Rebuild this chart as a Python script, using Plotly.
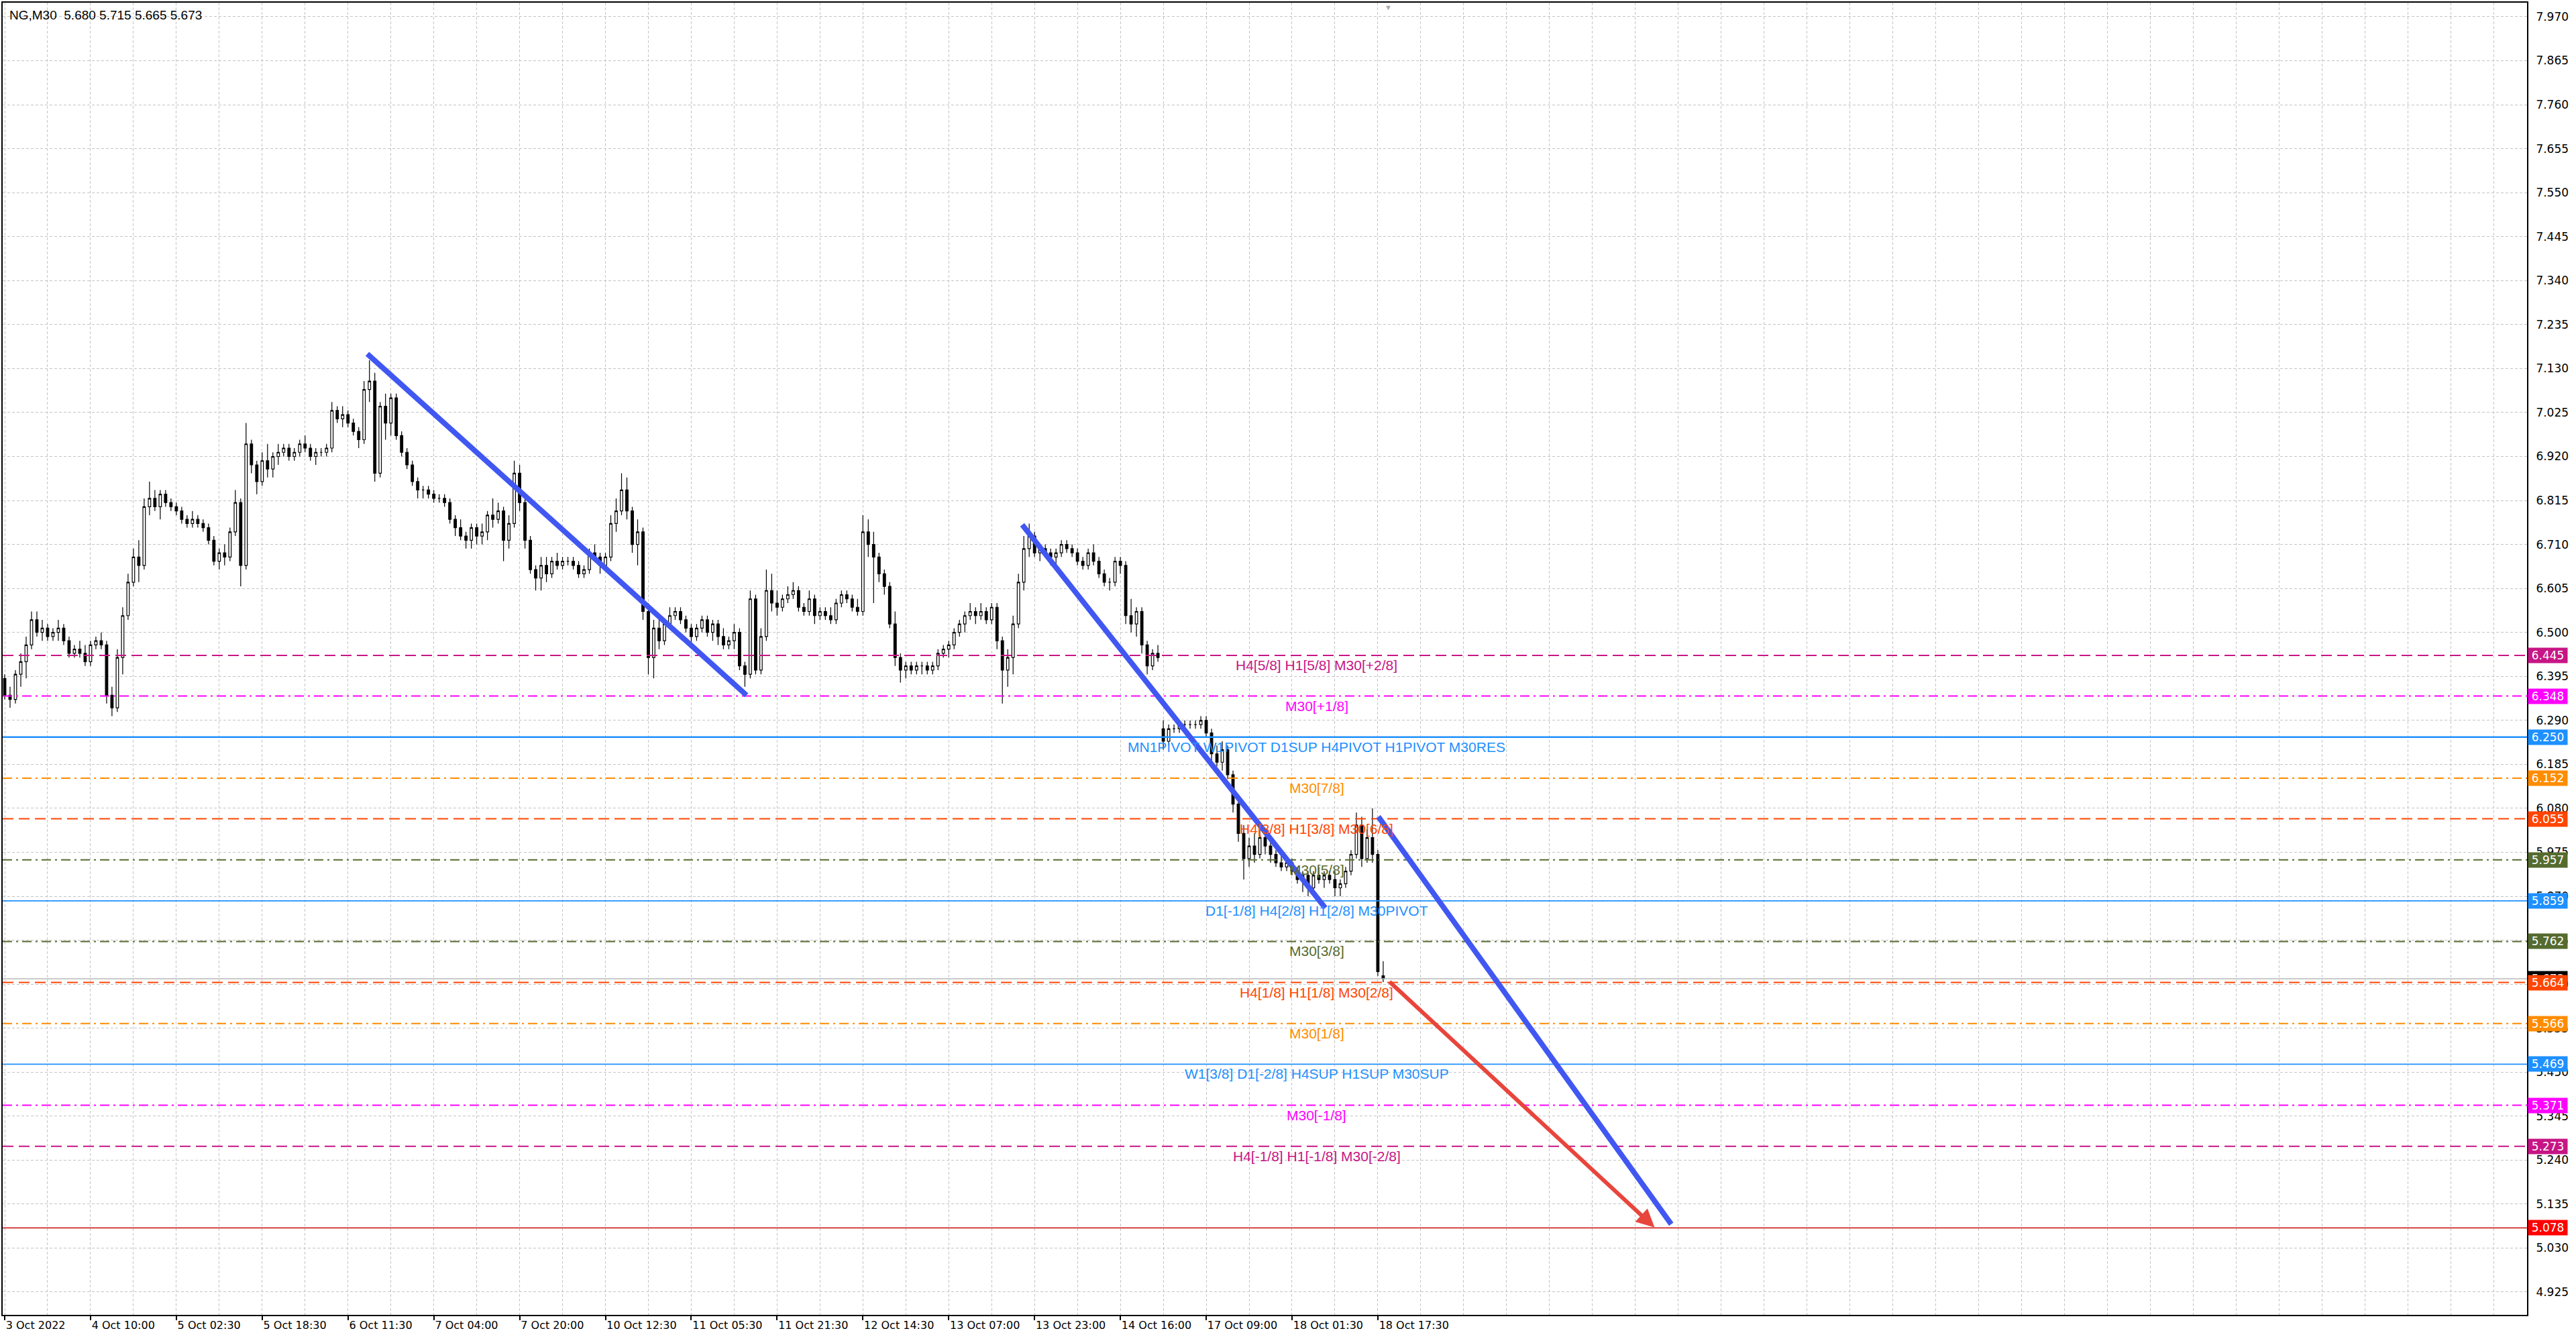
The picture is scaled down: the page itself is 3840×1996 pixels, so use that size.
import plotly.graph_objects as go

# ---------------- data (NG, M30, each candle = 2 bars) ----------------
opens = [
    6.39, 6.35, 6.34, 6.40, 6.43, 6.47, 6.53, 6.50, 6.51, 6.49,
    6.50, 6.51, 6.48, 6.45, 6.46, 6.45, 6.43, 6.47, 6.48, 6.47,
    6.35, 6.32, 6.44, 6.54, 6.62, 6.68, 6.66, 6.80, 6.82, 6.80,
    6.83, 6.81, 6.80, 6.79, 6.77, 6.76, 6.77, 6.76, 6.75, 6.72,
    6.67, 6.69, 6.68, 6.74, 6.81, 6.66, 6.95, 6.90, 6.86, 6.91,
    6.89, 6.92, 6.93, 6.94, 6.92, 6.93, 6.95, 6.94, 6.92, 6.93,
    6.93, 6.94, 7.03, 7.01, 7.02, 7.00, 6.98, 6.96, 7.08, 7.10,
    6.88, 7.04, 7.00, 7.06, 6.97, 6.93, 6.90, 6.86, 6.84, 6.84,
    6.83, 6.82, 6.82, 6.81, 6.77, 6.75, 6.73, 6.72, 6.75, 6.73,
    6.74, 6.78, 6.77, 6.79, 6.72, 6.76, 6.88, 6.81, 6.72, 6.65,
    6.63, 6.66, 6.64, 6.67, 6.66, 6.67, 6.67, 6.66, 6.64, 6.65,
    6.69, 6.68, 6.66, 6.68, 6.76, 6.79, 6.84, 6.79, 6.71, 6.74,
    6.55, 6.44, 6.51, 6.48, 6.52, 6.54, 6.55, 6.53, 6.51, 6.49,
    6.51, 6.53, 6.50, 6.52, 6.49, 6.47, 6.48, 6.50, 6.42, 6.40,
    6.58, 6.41, 6.49, 6.60, 6.57, 6.56, 6.58, 6.59, 6.60, 6.56,
    6.55, 6.58, 6.54, 6.55, 6.54, 6.53, 6.57, 6.59, 6.58, 6.56,
    6.55, 6.74, 6.71, 6.68, 6.64, 6.61, 6.52, 6.44, 6.41, 6.42,
    6.41, 6.42, 6.42, 6.41, 6.42, 6.45, 6.46, 6.47, 6.50, 6.52,
    6.54, 6.55, 6.54, 6.55, 6.53, 6.56, 6.48, 6.41, 6.44, 6.52,
    6.62, 6.70, 6.73, 6.69, 6.70, 6.69, 6.68, 6.69, 6.71, 6.70,
    6.69, 6.67, 6.66, 6.69, 6.67, 6.64, 6.62, 6.62, 6.67, 6.66,
    6.54, 6.52, 6.55, 6.47, 6.42, 6.45, 6.27, 6.24, 6.27, 6.27,
    6.28, 6.28, 6.28, 6.28, 6.29, 6.26, 6.21, 6.19, 6.22, 6.16,
    6.09, 6.02, 5.96, 5.99, 5.97, 6.01, 5.99, 5.97, 5.95, 5.94,
    5.95, 5.93, 5.91, 5.92, 5.89, 5.92, 5.91, 5.92, 5.91, 5.89,
    5.90, 5.93, 5.97, 6.04, 5.96, 6.01, 5.97, 5.680,
]
highs = [
    6.40, 6.37, 6.41, 6.45, 6.49, 6.55, 6.55, 6.53, 6.52, 6.51,
    6.53, 6.52, 6.49, 6.47, 6.48, 6.47, 6.48, 6.49, 6.50, 6.48,
    6.37, 6.46, 6.56, 6.64, 6.70, 6.72, 6.82, 6.86, 6.84, 6.84,
    6.84, 6.82, 6.81, 6.80, 6.78, 6.79, 6.78, 6.77, 6.76, 6.73,
    6.70, 6.71, 6.75, 6.84, 6.82, 7.00, 6.96, 6.91, 6.93, 6.95,
    6.93, 6.95, 6.95, 6.95, 6.94, 6.96, 6.97, 6.95, 6.94, 6.94,
    6.95, 7.05, 7.04, 7.04, 7.03, 7.01, 6.99, 7.10, 7.15, 7.12,
    7.05, 7.07, 7.07, 7.07, 6.98, 6.94, 6.91, 6.87, 6.85, 6.85,
    6.84, 6.83, 6.83, 6.82, 6.78, 6.77, 6.74, 6.76, 6.76, 6.76,
    6.79, 6.82, 6.81, 6.80, 6.78, 6.91, 6.90, 6.82, 6.73, 6.66,
    6.68, 6.68, 6.68, 6.69, 6.68, 6.68, 6.68, 6.67, 6.66, 6.70,
    6.71, 6.69, 6.69, 6.78, 6.82, 6.88, 6.87, 6.80, 6.77, 6.75,
    6.57, 6.53, 6.53, 6.53, 6.56, 6.56, 6.56, 6.54, 6.52, 6.52,
    6.54, 6.54, 6.53, 6.53, 6.51, 6.49, 6.52, 6.51, 6.43, 6.60,
    6.59, 6.51, 6.65, 6.64, 6.60, 6.59, 6.61, 6.62, 6.61, 6.57,
    6.60, 6.59, 6.56, 6.56, 6.56, 6.58, 6.60, 6.60, 6.59, 6.58,
    6.78, 6.77, 6.74, 6.69, 6.65, 6.62, 6.55, 6.45, 6.43, 6.43,
    6.43, 6.43, 6.43, 6.43, 6.46, 6.47, 6.48, 6.51, 6.53, 6.55,
    6.57, 6.56, 6.57, 6.56, 6.57, 6.57, 6.49, 6.46, 6.54, 6.64,
    6.73, 6.76, 6.74, 6.71, 6.71, 6.70, 6.70, 6.72, 6.72, 6.71,
    6.70, 6.68, 6.70, 6.71, 6.68, 6.65, 6.63, 6.68, 6.68, 6.67,
    6.58, 6.56, 6.56, 6.48, 6.46, 6.47, 6.29, 6.28, 6.28, 6.29,
    6.29, 6.29, 6.29, 6.30, 6.30, 6.27, 6.23, 6.24, 6.23, 6.17,
    6.10, 6.04, 6.01, 6.02, 6.03, 6.02, 6.00, 5.98, 5.97, 5.96,
    5.96, 5.94, 5.93, 5.93, 5.93, 5.94, 5.93, 5.93, 5.93, 5.91,
    5.94, 5.98, 6.07, 6.06, 6.03, 6.08, 5.98, 5.715,
]
lows = [
    6.34, 6.32, 6.33, 6.37, 6.39, 6.46, 6.49, 6.48, 6.48, 6.48,
    6.48, 6.47, 6.44, 6.44, 6.44, 6.42, 6.42, 6.46, 6.46, 6.33,
    6.30, 6.31, 6.40, 6.53, 6.61, 6.62, 6.65, 6.78, 6.79, 6.77,
    6.80, 6.79, 6.78, 6.76, 6.75, 6.75, 6.75, 6.74, 6.71, 6.66,
    6.65, 6.66, 6.67, 6.73, 6.61, 6.65, 6.88, 6.83, 6.85, 6.87,
    6.87, 6.90, 6.92, 6.91, 6.91, 6.92, 6.93, 6.91, 6.90, 6.92,
    6.92, 6.93, 7.00, 6.99, 6.99, 6.97, 6.94, 6.95, 7.05, 6.86,
    6.87, 6.96, 6.97, 6.96, 6.92, 6.89, 6.85, 6.82, 6.82, 6.82,
    6.81, 6.81, 6.80, 6.76, 6.73, 6.72, 6.70, 6.70, 6.71, 6.71,
    6.72, 6.75, 6.76, 6.67, 6.70, 6.75, 6.79, 6.70, 6.64, 6.60,
    6.60, 6.62, 6.63, 6.65, 6.65, 6.66, 6.65, 6.63, 6.63, 6.64,
    6.67, 6.64, 6.65, 6.67, 6.74, 6.78, 6.77, 6.69, 6.66, 6.53,
    6.40, 6.39, 6.46, 6.47, 6.51, 6.53, 6.52, 6.50, 6.47, 6.48,
    6.50, 6.49, 6.48, 6.47, 6.46, 6.46, 6.46, 6.41, 6.37, 6.39,
    6.40, 6.40, 6.48, 6.55, 6.54, 6.55, 6.57, 6.58, 6.55, 6.54,
    6.54, 6.52, 6.53, 6.53, 6.52, 6.52, 6.56, 6.57, 6.55, 6.54,
    6.54, 6.68, 6.57, 6.62, 6.59, 6.51, 6.42, 6.38, 6.39, 6.40,
    6.40, 6.40, 6.40, 6.40, 6.41, 6.44, 6.44, 6.46, 6.49, 6.50,
    6.53, 6.52, 6.53, 6.52, 6.52, 6.46, 6.33, 6.37, 6.40, 6.51,
    6.60, 6.68, 6.68, 6.67, 6.68, 6.66, 6.66, 6.68, 6.69, 6.68,
    6.66, 6.65, 6.65, 6.66, 6.63, 6.61, 6.60, 6.61, 6.64, 6.52,
    6.50, 6.49, 6.45, 6.40, 6.41, 6.43, 6.22, 6.23, 6.26, 6.26,
    6.27, 6.27, 6.27, 6.27, 6.25, 6.19, 6.18, 6.17, 6.15, 6.07,
    6.00, 5.91, 5.94, 5.95, 5.96, 5.97, 5.95, 5.94, 5.93, 5.93,
    5.92, 5.90, 5.88, 5.87, 5.88, 5.90, 5.89, 5.90, 5.87, 5.87,
    5.89, 5.92, 5.96, 5.94, 5.95, 5.95, 5.68, 5.665,
]
closes = [
    6.35, 6.34, 6.40, 6.43, 6.47, 6.53, 6.50, 6.51, 6.49, 6.50,
    6.51, 6.48, 6.45, 6.46, 6.45, 6.43, 6.47, 6.48, 6.47, 6.35,
    6.32, 6.44, 6.54, 6.62, 6.68, 6.66, 6.80, 6.82, 6.80, 6.83,
    6.81, 6.80, 6.79, 6.77, 6.76, 6.77, 6.76, 6.75, 6.72, 6.67,
    6.69, 6.68, 6.74, 6.81, 6.66, 6.95, 6.90, 6.86, 6.91, 6.89,
    6.92, 6.93, 6.94, 6.92, 6.93, 6.95, 6.94, 6.92, 6.93, 6.93,
    6.94, 7.03, 7.01, 7.02, 7.00, 6.98, 6.96, 7.08, 7.10, 6.88,
    7.04, 7.00, 7.06, 6.97, 6.93, 6.90, 6.86, 6.84, 6.84, 6.83,
    6.82, 6.82, 6.81, 6.77, 6.75, 6.73, 6.72, 6.75, 6.73, 6.74,
    6.78, 6.77, 6.79, 6.72, 6.76, 6.88, 6.81, 6.72, 6.65, 6.63,
    6.66, 6.64, 6.67, 6.66, 6.67, 6.67, 6.66, 6.64, 6.65, 6.69,
    6.68, 6.66, 6.68, 6.76, 6.79, 6.84, 6.79, 6.71, 6.74, 6.55,
    6.44, 6.51, 6.48, 6.52, 6.54, 6.55, 6.53, 6.51, 6.49, 6.51,
    6.53, 6.50, 6.52, 6.49, 6.47, 6.48, 6.50, 6.42, 6.40, 6.58,
    6.41, 6.49, 6.60, 6.57, 6.56, 6.58, 6.59, 6.60, 6.56, 6.55,
    6.58, 6.54, 6.55, 6.54, 6.53, 6.57, 6.59, 6.58, 6.56, 6.55,
    6.74, 6.71, 6.68, 6.64, 6.61, 6.52, 6.44, 6.41, 6.42, 6.41,
    6.42, 6.42, 6.41, 6.42, 6.45, 6.46, 6.47, 6.50, 6.52, 6.54,
    6.55, 6.54, 6.55, 6.53, 6.56, 6.48, 6.41, 6.44, 6.52, 6.62,
    6.70, 6.73, 6.69, 6.70, 6.69, 6.68, 6.69, 6.71, 6.70, 6.69,
    6.67, 6.66, 6.69, 6.67, 6.64, 6.62, 6.62, 6.67, 6.66, 6.54,
    6.52, 6.55, 6.47, 6.42, 6.45, 6.44, 6.24, 6.27, 6.27, 6.28,
    6.28, 6.28, 6.28, 6.29, 6.26, 6.21, 6.19, 6.22, 6.16, 6.09,
    6.02, 5.96, 5.99, 5.97, 6.01, 5.99, 5.97, 5.95, 5.94, 5.95,
    5.93, 5.91, 5.92, 5.89, 5.92, 5.91, 5.92, 5.91, 5.89, 5.90,
    5.93, 5.97, 6.04, 5.96, 6.01, 5.97, 5.69, 5.673,
]
bar_index = list(range(len(closes)))

x_tick_pos = [0, 16, 32, 48, 64, 80, 96, 112, 128, 144, 160, 176, 192, 208, 224, 240, 256]
x_tick_labels = ["3 Oct 2022", "4 Oct 10:00", "5 Oct 02:30", "5 Oct 18:30", "6 Oct 11:30",
                 "7 Oct 04:00", "7 Oct 20:00", "10 Oct 12:30", "11 Oct 05:30", "11 Oct 21:30",
                 "12 Oct 14:30", "13 Oct 07:00", "13 Oct 23:00", "14 Oct 16:00", "17 Oct 09:00",
                 "18 Oct 01:30", "18 Oct 17:30"]
y_tick_values = [4.925, 5.030, 5.135, 5.240, 5.345, 5.450, 5.555, 5.660, 5.765, 5.870,
                 5.975, 6.080, 6.185, 6.290, 6.395, 6.500, 6.605, 6.710, 6.815, 6.920,
                 7.025, 7.130, 7.235, 7.340, 7.445, 7.550, 7.655, 7.760, 7.865, 7.970]

# Murrey / pivot levels
level_values = [6.445, 6.348, 6.250, 6.152, 6.055, 5.957, 5.859, 5.762,
                5.664, 5.566, 5.469, 5.371, 5.273, 5.078]
level_texts = ["H4[5/8] H1[5/8] M30[+2/8]", "M30[+1/8]",
               "MN1PIVOT W1PIVOT D1SUP H4PIVOT H1PIVOT M30RES", "M30[7/8]",
               "H4[3/8] H1[3/8] M30[6/8]", "M30[5/8]",
               "D1[-1/8] H4[2/8] H1[2/8] M30PIVOT", "M30[3/8]",
               "H4[1/8] H1[1/8] M30[2/8]", "M30[1/8]",
               "W1[3/8] D1[-2/8] H4SUP H1SUP M30SUP", "M30[-1/8]",
               "H4[-1/8] H1[-1/8] M30[-2/8]", ""]
current_price = 5.673

# trend lines (bar index, price)
trend_x0 = [67.6, 189.7, 256.1]
trend_y0 = [7.165, 6.757, 6.060]
trend_x1 = [138.3, 246.2, 310.7]
trend_y1 = [6.350, 5.842, 5.087]
target_x = [258.0, 307.6]
target_y = [5.668, 5.079]

# ---------------- styles ----------------
C_VIOLET = "#C71585"
C_MAGENTA = "#FF00FF"
C_BLUE = "#1E90FF"
C_ORANGE = "#FF8C00"
C_ORED = "#FF4500"
C_OLIVE = "#556B2F"
DASH = "16px,8px"
DASHDOT = "14px,6px,3px,6px"
level_colors = [C_VIOLET, C_MAGENTA, C_BLUE, C_ORANGE, C_ORED, C_OLIVE, C_BLUE, C_OLIVE,
                C_ORED, C_ORANGE, C_BLUE, C_MAGENTA, C_VIOLET, "#D02828"]
level_dash = [DASH, DASHDOT, "solid", DASHDOT, DASH, DASHDOT, "solid", DASHDOT,
              DASH, DASHDOT, "solid", DASHDOT, DASH, "solid"]
level_width = [2, 2, 2.5, 2, 2, 2, 1.8, 2, 2, 2, 1.8, 2, 2, 1.8]
box_colors = [C_VIOLET, C_MAGENTA, C_BLUE, C_ORANGE, C_ORED, C_OLIVE, C_BLUE, C_OLIVE,
              C_ORED, C_ORANGE, C_BLUE, C_MAGENTA, C_VIOLET, "#FF0000"]
TREND_BLUE = "#4157F2"
TREND_RED = "#E8453C"
GRID = "#C4C4C4"
GRID_DASH = "4px,3px"
AXIS_FONT = dict(family="DejaVu Sans", size=17, color="black")

fig = go.Figure()
fig.add_trace(go.Candlestick(
    x=bar_index, open=opens, high=highs, low=lows, close=closes,
    increasing=dict(line=dict(color="black", width=1.2), fillcolor="white"),
    decreasing=dict(line=dict(color="black", width=1.2), fillcolor="black"),
    whiskerwidth=0, hoverinfo="skip", showlegend=False,
))

shapes = []
# current price line
shapes.append(dict(type="line", xref="paper", x0=0, x1=1, yref="y", y0=current_price, y1=current_price,
                   line=dict(color="#B8B8B8", width=1.5), layer="above"))
for v, c, d, w in zip(level_values, level_colors, level_dash, level_width):
    shapes.append(dict(type="line", xref="paper", x0=0, x1=1, yref="y", y0=v, y1=v,
                       line=dict(color=c, width=w, dash=d), layer="above"))
for xa, ya, xb, yb in zip(trend_x0, trend_y0, trend_x1, trend_y1):
    shapes.append(dict(type="line", xref="x", yref="y", x0=xa, y0=ya, x1=xb, y1=yb,
                       line=dict(color=TREND_BLUE, width=8), layer="above"))

annotations = []
# level labels
for v, t, c in zip(level_values, level_texts, level_colors):
    if t:
        annotations.append(dict(xref="x", x=244.6, yref="y", y=v, yanchor="top", xanchor="center",
                                yshift=-1, text=t, showarrow=False,
                                font=dict(family="Liberation Sans", size=21, color=c)))
# target arrow
annotations.append(dict(xref="x", yref="y", x=target_x[1], y=target_y[1],
                        axref="x", ayref="y", ax=target_x[0], ay=target_y[0],
                        text="", showarrow=True, arrowhead=2, arrowsize=0.9,
                        arrowwidth=6, arrowcolor=TREND_RED, standoff=0))
# price boxes on the right axis
annotations.append(dict(xref="paper", x=1, xanchor="left", xshift=1, yref="y", y=current_price,
                        yanchor="middle", text=f"{current_price:.3f}", showarrow=False,
                        bgcolor="black", font=dict(family="DejaVu Sans", size=17, color="white"),
                        width=56, height=20, borderpad=1, align="center"))
for v, c in zip(level_values, box_colors):
    annotations.append(dict(xref="paper", x=1, xanchor="left", xshift=1, yref="y", y=v,
                            yanchor="middle", text=f"{v:.3f}", showarrow=False,
                            bgcolor=c, font=dict(family="DejaVu Sans", size=17, color="white"),
                            width=56, height=20, borderpad=1, align="center"))
# header
annotations.append(dict(xref="paper", yref="paper", x=0, y=1, xanchor="left", yanchor="top",
                        xshift=8, yshift=-6, showarrow=False,
                        text=f"NG,M30  {opens[-1]:.3f} {highs[-1]:.3f} {lows[-1]:.3f} {closes[-1]:.3f}",
                        font=dict(family="Liberation Sans", size=19, color="black")))
# chart shift marker
annotations.append(dict(xref="x", yref="paper", x=bar_index[-1] + 1, y=1, yanchor="top",
                        yshift=3, showarrow=False, text="▼", font=dict(size=11, color="#A8A8A8")))

fig.update_layout(
    width=3840, height=1996,
    margin=dict(l=2, r=73, t=4, b=36),
    paper_bgcolor="white", plot_bgcolor="white",
    showlegend=False, boxgap=0.35,
    shapes=shapes, annotations=annotations,
    xaxis=dict(
        range=[-0.375, 470.25], tickmode="array", tickvals=x_tick_pos, ticktext=x_tick_labels,
        ticks="outside", ticklen=6, tickcolor="black", tickwidth=1.5,
        ticklabelposition="outside right", tickfont=dict(family="DejaVu Sans", size=16, color="black"),
        showgrid=True, gridcolor=GRID, griddash=GRID_DASH, gridwidth=1,
        minor=dict(tickmode="linear", tick0=0, dtick=8, showgrid=True, gridcolor=GRID,
                   griddash=GRID_DASH, gridwidth=1, ticks=""),
        showline=True, linecolor="black", linewidth=2, mirror=True, zeroline=False,
        rangeslider=dict(visible=False), fixedrange=True,
    ),
    yaxis=dict(
        side="right", range=[4.8705, 8.0036], tickmode="array", tickvals=y_tick_values,
        tickformat=".3f", ticks="", ticklabelstandoff=8, tickfont=AXIS_FONT,
        showgrid=True, gridcolor=GRID, griddash=GRID_DASH, gridwidth=1,
        showline=True, linecolor="black", linewidth=2, mirror=True, zeroline=False,
        fixedrange=True,
    ),
)

fig.write_html("out.html", config={"displayModeBar": False},
               post_script="document.body.style.margin='0';document.body.style.overflow='hidden';")
